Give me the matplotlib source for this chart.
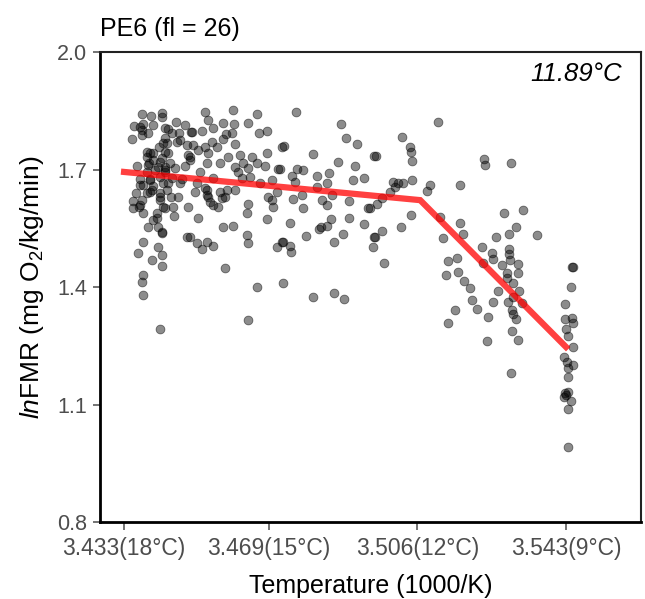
import matplotlib
matplotlib.use("Agg")
import matplotlib.pyplot as plt

plt.rcParams['font.family'] = ['Liberation Sans', 'DejaVu Sans']
plt.rcParams['mathtext.fontset'] = 'custom'
plt.rcParams['mathtext.rm'] = 'Liberation Sans'
plt.rcParams['mathtext.it'] = 'Liberation Sans:italic'

# inverse temperature (1000/K) and ln FMR
inv_temp = [
    # warm end, dense cluster
    3.4375, 3.4397, 3.4425, 3.4425, 3.4355, 3.4377, 3.4375, 3.4402, 3.4390, 3.4350,
    3.4459, 3.4482, 3.4497, 3.4440, 3.4449, 3.4467, 3.4432, 3.4437, 3.4417, 3.4462,
    3.4487, 3.4387, 3.4402, 3.4440, 3.4425, 3.4489, 3.4392, 3.4420, 3.4444, 3.4362,
    3.4482, 3.4387, 3.4407, 3.4432, 3.4457, 3.4370, 3.4395, 3.4420, 3.4449, 3.4474,
    3.4377, 3.4402, 3.4427, 3.4395, 3.4420, 3.4360, 3.4447, 3.4464, 3.4352, 3.4375,
    3.4420, 3.4352, 3.4367, 3.4377, 3.4427, 3.4452, 3.4412, 3.4454, 3.4489, 3.4402,
    3.4390, 3.4415, 3.4425, 3.4487, 3.4377, 3.4415, 3.4365, 3.4425, 3.4400, 3.4425,
    3.4377, 3.4375, 3.4377, 3.4420, 3.4432, 3.4387, 3.4440, 3.4432, 3.4375,
    3.4370, 3.4432, 3.4469, 3.4427, 3.4432, 3.4395, 3.4402, 3.4390, 3.4415, 3.4432,
    3.4395, 3.4370, 3.4400, 3.4437, 3.4387, 3.4420, 3.4370, 3.4412, 3.4425, 3.4537,
    3.4539, 3.4552, 3.4564, 3.4494, 3.4469,
    # 15-17 C
    3.4532, 3.4601, 3.4661, 3.4539, 3.4576, 3.4604, 3.4639, 3.4666, 3.4686, 3.4499,
    3.4524, 3.4552, 3.4584, 3.4599, 3.4576, 3.4606, 3.4502, 3.4532, 3.4549, 3.4561,
    3.4514, 3.4539, 3.4494, 3.4589, 3.4619, 3.4649, 3.4686, 3.4723, 3.4569, 3.4537,
    3.4606, 3.4626, 3.4639, 3.4661, 3.4681, 3.4713, 3.4519, 3.4552, 3.4614, 3.4624,
    3.4644, 3.4669, 3.4698, 3.4512, 3.4532, 3.4537, 3.4507, 3.4569, 3.4586, 3.4606,
    3.4574, 3.4581, 3.4544, 3.4688, 3.4698, 3.4711, 3.4639, 3.4636, 3.4701, 3.4514,
    3.4686, 3.4576, 3.4601, 3.4494, 3.4636, 3.4639, 3.4512, 3.4537, 3.4552, 3.4524,
    3.4711, 3.4723, 3.4581, 3.4661, 3.4726, 3.4639,
    # 13-15 C
    3.4758, 3.4870, 3.4883, 3.4910, 3.4728, 3.4800, 3.4863, 3.4952, 3.4905, 3.4718,
    3.4761, 3.4776, 3.4810, 3.4840, 3.4900, 3.4927, 3.4748, 3.4756, 3.4810, 3.4835,
    3.4848, 3.4773, 3.4751, 3.4823, 3.4835, 3.4890, 3.4776, 3.4937, 3.4743, 3.4845,
    3.4890, 3.4835, 3.4815, 3.4927, 3.4783, 3.4875, 3.4853, 3.4726, 3.4743, 3.4746,
    3.4950, 3.4952, 3.4800, 3.4853, 3.4878, 3.4820,
    # 11-13 C
    3.5112, 3.5022, 3.5042, 3.5044, 3.5047, 3.4957, 3.4999, 3.5012, 3.5024, 3.5047,
    3.5004, 3.4992, 3.5092, 3.5084, 3.5166, 3.4972, 3.4960, 3.4942, 3.5044, 3.5117,
    3.5166, 3.5019, 3.4972, 3.4955, 3.5124, 3.4977, 3.5137, 3.5159, 3.5132, 3.5161,
    3.5176, 3.5154, 3.5137,
    # 9-11 C
    3.5226, 3.5229, 3.5293, 3.5276, 3.5323, 3.5174, 3.5306, 3.5288, 3.5358, 3.5256,
    3.5221, 3.5246, 3.5249, 3.5288, 3.5288, 3.5291, 3.5224, 3.5271, 3.5311, 3.5311,
    3.5283, 3.5283, 3.5191, 3.5298, 3.5261, 3.5313, 3.5196, 3.5209, 3.5249, 3.5286,
    3.5296, 3.5298, 3.5306, 3.5321, 3.5236, 3.5296, 3.5311, 3.5234, 3.5293, 3.5298,
    # 9 C
    3.5445, 3.5443, 3.5428, 3.5428, 3.5445, 3.5447, 3.5430, 3.5435, 3.5447, 3.5425,
    3.5433, 3.5447, 3.5435, 3.5435, 3.5428, 3.5435, 3.5425, 3.5443, 3.5435, 3.5435,
    3.5447, 3.5430,
]

ln_fmr = [
    1.842, 1.837, 1.844, 1.834, 1.811, 1.816, 1.801, 1.814, 1.793, 1.778,
    1.821, 1.814, 1.796, 1.803, 1.793, 1.793, 1.780, 1.768, 1.757, 1.770,
    1.763, 1.745, 1.742, 1.742, 1.729, 1.737, 1.717, 1.719, 1.717, 1.709,
    1.709, 1.694, 1.699, 1.694, 1.704, 1.676, 1.676, 1.681, 1.678, 1.676,
    1.660, 1.658, 1.666, 1.643, 1.640, 1.640, 1.630, 1.630, 1.620, 1.622,
    1.622, 1.602, 1.604, 1.589, 1.604, 1.604, 1.589, 1.581, 1.604, 1.571,
    1.553, 1.553, 1.538, 1.528, 1.515, 1.502, 1.487, 1.482, 1.469, 1.454,
    1.431, 1.413, 1.380, 1.293, 1.706, 1.732, 1.666, 1.602, 1.788,
    1.809, 1.806, 1.775, 1.768, 1.745, 1.742, 1.724, 1.712, 1.706, 1.699,
    1.673, 1.660, 1.648, 1.648, 1.640, 1.630, 1.609, 1.576, 1.540, 1.648,
    1.630, 1.609, 1.604, 1.724, 1.666,
    1.847, 1.852, 1.842, 1.826, 1.819, 1.816, 1.819, 1.793, 1.798, 1.796,
    1.798, 1.806, 1.791, 1.793, 1.778, 1.765, 1.763, 1.757, 1.770, 1.757,
    1.750, 1.742, 1.732, 1.732, 1.737, 1.732, 1.742, 1.757, 1.717, 1.717,
    1.706, 1.717, 1.704, 1.717, 1.709, 1.701, 1.694, 1.678, 1.694, 1.678,
    1.681, 1.666, 1.673, 1.666, 1.653, 1.635, 1.643, 1.643, 1.648, 1.648,
    1.627, 1.630, 1.617, 1.630, 1.622, 1.643, 1.612, 1.589, 1.604, 1.576,
    1.574, 1.553, 1.556, 1.528, 1.533, 1.512, 1.512, 1.515, 1.505, 1.497,
    1.502, 1.515, 1.449, 1.400, 1.410, 1.316,
    1.847, 1.816, 1.780, 1.765, 1.760, 1.740, 1.719, 1.734, 1.709, 1.701,
    1.701, 1.699, 1.683, 1.691, 1.673, 1.678, 1.683, 1.668, 1.655, 1.666,
    1.635, 1.635, 1.625, 1.622, 1.609, 1.620, 1.602, 1.602, 1.563, 1.574,
    1.576, 1.556, 1.548, 1.561, 1.530, 1.535, 1.515, 1.515, 1.505, 1.489,
    1.502, 1.528, 1.375, 1.385, 1.369, 1.553,
    1.821, 1.783, 1.757, 1.745, 1.722, 1.734, 1.668, 1.666, 1.666, 1.673,
    1.655, 1.643, 1.660, 1.645, 1.660, 1.627, 1.612, 1.602, 1.584, 1.579,
    1.563, 1.553, 1.543, 1.528, 1.525, 1.461, 1.466, 1.474, 1.431, 1.438,
    1.415, 1.341, 1.308,
    1.727, 1.712, 1.717, 1.589, 1.597, 1.535, 1.553, 1.535, 1.533, 1.528,
    1.502, 1.487, 1.472, 1.497, 1.484, 1.469, 1.461, 1.456, 1.459, 1.436,
    1.436, 1.423, 1.397, 1.410, 1.390, 1.390, 1.367, 1.344, 1.362, 1.362,
    1.341, 1.331, 1.318, 1.359, 1.323, 1.288, 1.265, 1.262, 1.180, 1.375,
    1.451, 1.400, 1.357, 1.318, 1.321, 1.308, 1.293, 1.275, 1.247, 1.221,
    1.209, 1.201, 1.193, 1.170, 1.129, 1.132, 1.119, 1.109, 1.089, 0.992,
    1.451, 1.125,
]

# segmented fit
seg_x = [3.433, 3.5067, 3.543]
seg_y = [1.694, 1.622, 1.247]

tick_vals = [3.433, 3.469, 3.506, 3.543]
tick_labels = ['3.433(18°C)', '3.469(15°C)', '3.506(12°C)', '3.543(9°C)']
y_ticks = [0.8, 1.1, 1.4, 1.7, 2.0]

fig = plt.figure(figsize=(6.45, 5.99), dpi=100)
ax = fig.add_axes([0.155, 0.1285, 0.839, 0.7845])

ax.scatter(inv_temp, ln_fmr, s=40, facecolor=(0, 0, 0, 0.45),
           edgecolor=(0, 0, 0, 0.5), linewidth=0.6, zorder=2)
ax.plot(seg_x, seg_y, color='red', alpha=0.75, linewidth=4.5,
        solid_joinstyle='miter', zorder=3)

ax.set_xlim(3.427, 3.5617)
ax.set_ylim(0.8, 2.0)
ax.set_xticks(tick_vals)
ax.set_xticklabels(tick_labels)
ax.set_yticks(y_ticks)
ax.set_yticklabels([f'{v:.1f}' for v in y_ticks])
ax.tick_params(axis='x', labelsize=16.5, colors='#4d4d4d', length=6,
               width=1.1, pad=5)
ax.tick_params(axis='y', labelsize=15.5, colors='#4d4d4d', length=5,
               width=1.1, pad=4)

for side in ['left', 'bottom']:
    ax.spines[side].set_linewidth(2)
    ax.spines[side].set_color('black')
for side in ['top', 'right']:
    ax.spines[side].set_linewidth(1.5)
    ax.spines[side].set_color('#222222')

ax.set_xlabel('Temperature (1000/K)', fontsize=18, labelpad=10)
ax.set_ylabel(r'$\mathit{ln}$FMR (mg O$_2$/kg/min)', fontsize=19, labelpad=8)
ax.text(0.965, 0.978, '11.89°C', transform=ax.transAxes, ha='right', va='top',
        fontsize=18.5, style='italic')
fig.text(0.155, 0.94, 'PE6 (fl = 26)', fontsize=18, ha='left', va='baseline')

fig.savefig('out.png', dpi=100)
